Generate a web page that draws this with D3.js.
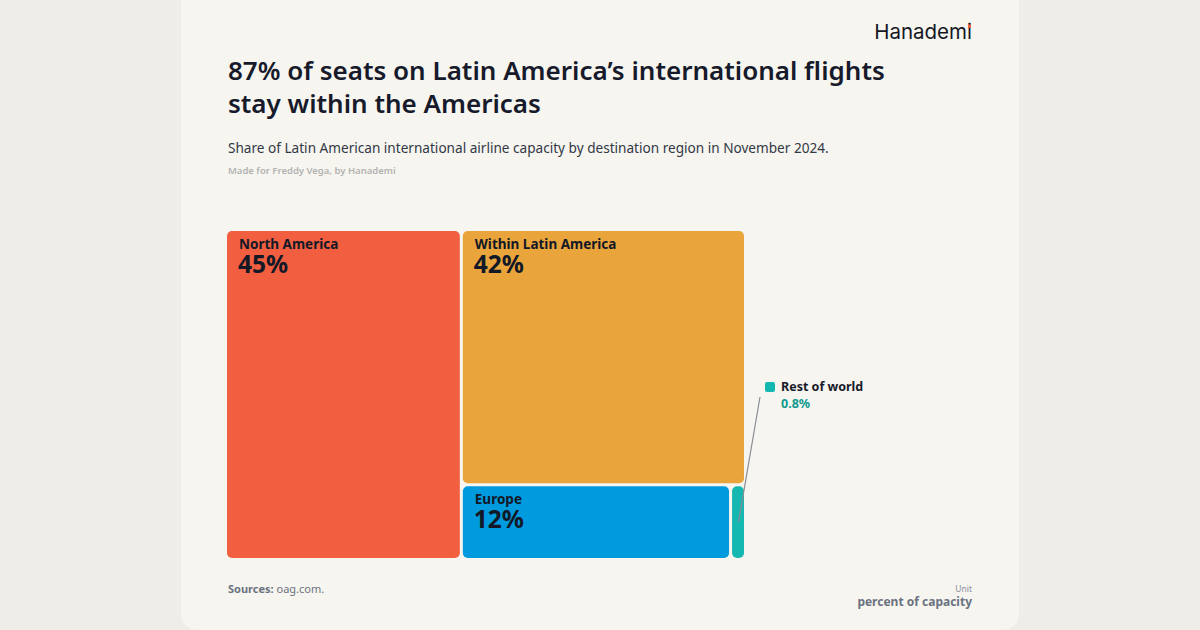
<!DOCTYPE html>
<html><head><meta charset="utf-8">
<script src="https://cdn.jsdelivr.net/npm/d3@7"></script>
<style>
html,body{margin:0;padding:0;background:#eeede8;}
svg{display:block;font-family:"Noto Sans","Open Sans",sans-serif;}
</style></head>
<body>
<svg id="c" width="1200" height="630"></svg>
<script>
const categories = ["North America", "Within Latin America", "Europe", "Rest of world"];
const shares = [45, 42, 12, 0.8];
const labels = ["45%", "42%", "12%", "0.8%"];
const colors = ["#f15f40", "#e9a43b", "#009bde", "#14b8b0"];

const svg = d3.select("#c");
svg.append("rect").attr("x",181).attr("y",-20).attr("width",838).attr("height",650).attr("rx",16).attr("fill","#f6f5f0");

// logo
const logo = svg.append("text").attr("x",972).attr("y",39).attr("text-anchor","end")
  .attr("font-size",20.5).attr("fill","#15171f").attr("font-family","Inter, 'Noto Sans', sans-serif").text("Hanademi");
try{
  const ext = logo.node().getExtentOfChar(7);
  svg.append("rect").attr("x",ext.x+ext.width/2-1.5).attr("y",ext.y+ext.height*0.22).attr("width",3).attr("height",3.4).attr("fill","#f15f40");
}catch(e){}

// title
const title = svg.append("text").attr("x",228).attr("font-size",26).attr("font-weight",600).attr("fill","#171a2a");
title.append("tspan").attr("x",228).attr("y",80).text("87% of seats on Latin America\u2019s international flights");
title.append("tspan").attr("x",228).attr("y",113).text("stay within the Americas");

svg.append("text").attr("x",228).attr("y",153).attr("font-size",13.6).attr("fill","#333845")
  .text("Share of Latin American international airline capacity by destination region in November 2024.");
svg.append("text").attr("x",228).attr("y",174).attr("font-size",9.5).attr("font-weight",600).attr("fill","#b3b3b3")
  .text("Made for Freddy Vega, by Hanademi");

// treemap
const x0 = 227, y0 = 231, W = 517, H = 327;
const root = d3.hierarchy({children: categories.map((c,i)=>({name:c, value:shares[i], label:labels[i], color:colors[i]}))})
  .sum(d=>d.value||0).sort((a,b)=>b.value-a.value);
d3.treemap().size([W+3,H+3]).paddingInner(3).tile(d3.treemapSquarify.ratio(1))(root);

const g = svg.append("g").attr("transform",`translate(${x0},${y0})`);
const leaves = root.leaves();
g.selectAll("rect.cell").data(leaves).join("rect").attr("class","cell")
  .attr("x",d=>d.x0).attr("y",d=>d.y0)
  .attr("width",d=>Math.max(0,Math.min(d.x1,W)-d.x0)).attr("height",d=>Math.max(0,Math.min(d.y1,H)-d.y0))
  .attr("rx",5).attr("fill",d=>d.data.color);

leaves.filter(d=>d.data.value>=5).forEach(d=>{
  g.append("text").attr("x",d.x0+12).attr("y",d.y0+18).attr("font-size",13.5).attr("font-weight",700).attr("fill","#121826").text(d.data.name);
  g.append("text").attr("x",d.x0+11).attr("y",d.y0+42).attr("font-size",24.5).attr("font-weight",700).attr("fill","#121826").text(d.data.label);
});

// small callout
const small = leaves.find(d=>d.data.value<5);
const lx = x0 + Math.min(small.x1,W) + 21, ly = 387;
g.append("line").attr("x1",lx-x0-5).attr("y1",ly+10-y0).attr("x2",(small.x0+Math.min(small.x1,W))/2+0.5).attr("y2",small.y0+(Math.min(small.y1,H)-small.y0)*0.5)
  .attr("stroke","#8a8d96").attr("stroke-width",1.2);
svg.append("rect").attr("x",lx).attr("y",ly-5).attr("width",10).attr("height",10).attr("rx",2).attr("fill",small.data.color);
svg.append("text").attr("x",lx+16).attr("y",ly+4).attr("font-size",12.5).attr("font-weight",700).attr("fill","#171a2a").text(small.data.name);
svg.append("text").attr("x",lx+16).attr("y",ly+21).attr("font-size",12.5).attr("font-weight",700).attr("fill","#0f9a8f").text(small.data.label);

// footer
const src = svg.append("text").attr("x",228).attr("y",593).attr("font-size",11).attr("fill","#6b7280");
src.append("tspan").attr("font-weight",700).text("Sources:");
src.append("tspan").text(" oag.com.");
svg.append("text").attr("x",972).attr("y",592).attr("text-anchor","end").attr("font-size",8.5).attr("fill","#8a8f9c").text("Unit");
svg.append("text").attr("x",972).attr("y",606).attr("text-anchor","end").attr("font-size",12).attr("font-weight",700).attr("fill","#6b7280").text("percent of capacity");
</script>
</body></html>
